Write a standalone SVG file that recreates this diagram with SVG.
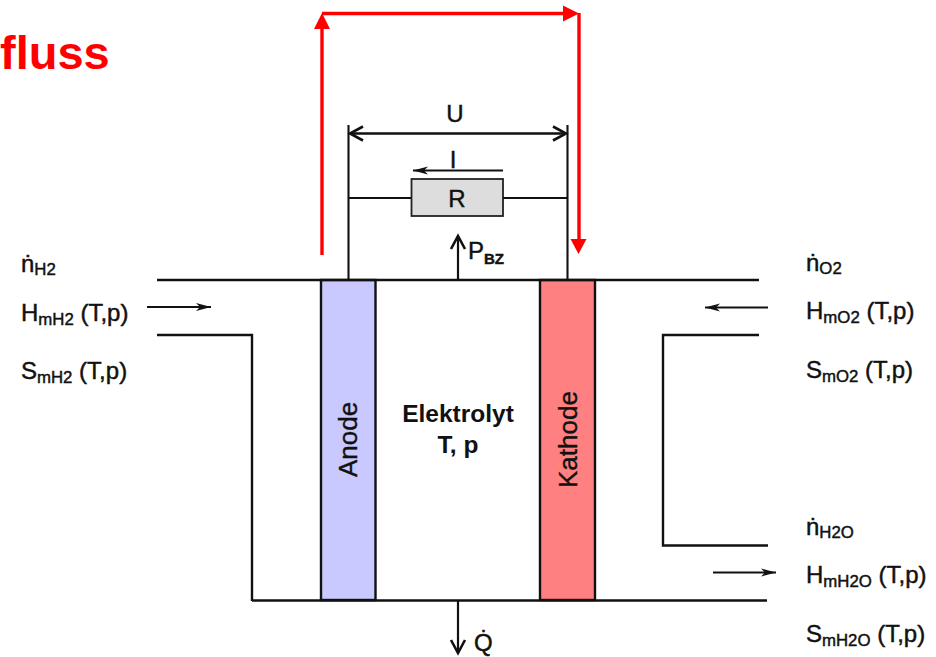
<svg xmlns="http://www.w3.org/2000/svg" width="936" height="657" viewBox="0 0 936 657">
<style>
text{font-family:"Liberation Sans",Arial,sans-serif;fill:#111}
.l{font-size:24px;stroke:#111;stroke-width:.45}
.e{font-size:26px;stroke:#111;stroke-width:.4}
.s{font-size:16.800px}
.m{text-anchor:middle}
.k{fill:none;stroke:#111;stroke-width:2.4}
.t{fill:none;stroke:#111;stroke-width:2.1}
.r{fill:none;stroke:#f00;stroke-width:3.4}
.h{fill:#f00}
.a{fill:none;stroke:#111;stroke-width:2.2}
</style>
<defs>
<marker id="o" markerUnits="userSpaceOnUse" markerWidth="18" markerHeight="18" refX="15" refY="9" orient="auto"><path d="M2 2L15 9L2 16" fill="none" stroke="#111" stroke-width="2.6"/></marker>
<marker id="b" markerUnits="userSpaceOnUse" markerWidth="18" markerHeight="12" refX="16" refY="6" orient="auto-start-reverse"><path d="M1 2L16 6L1 10L5 6Z" fill="#111"/></marker>
</defs>
<rect width="936" height="657" fill="#fff"/>
<text id="title" x="0" y="69" font-size="47" font-weight="700" style="fill:#f00">fluss</text>
<g id="anode"><rect x="321" y="280" width="54.500" height="320" fill="#c9c9ff" stroke="#111" stroke-width="2.400"/><text class="e" transform="translate(357,477) rotate(-90)">Anode</text></g>
<g id="kathode"><rect x="540" y="280" width="55" height="320" fill="#ff8080" stroke="#111" stroke-width="2.400"/><text class="e" transform="translate(577,488) rotate(-90)">Kathode</text></g>
<g id="elektrolyt"><text class="m" x="458" y="422" font-size="24.500" font-weight="700">Elektrolyt</text><text class="m" x="458" y="453" font-size="24.500" font-weight="700">T, p</text></g>
<g id="resistor"><rect x="411.500" y="179" width="91.500" height="37" fill="#ddd" stroke="#222" stroke-width="1.800"/><text class="l m" x="457" y="207">R</text></g>
<g id="connectors">
<path class="k" d="M157 280H759M157 335H252V601M252 600.500H767M759 335H663V545.500H768"/>
<path class="t" d="M348.500 125V280M567.500 125V280M348.500 198H411M503 198H567"/>
<path class="a" d="M350 133.500H566" marker-end="url(#o)"/>
<path class="a" d="M566 133.500H350" marker-end="url(#o)"/>
<path class="t" d="M503 170.500H413" marker-end="url(#b)"/>
<path class="a" d="M458 280V236" marker-end="url(#o)"/>
<path class="a" d="M458 601V653" marker-end="url(#o)"/>
<path class="t" d="M147 307H211" marker-end="url(#b)"/>
<path class="t" d="M768 307.500H705" marker-end="url(#b)"/>
<path class="t" d="M713 572.500H776" marker-end="url(#b)"/>
<path class="r" d="M322 255V25M322 13.500H566M579 13V242"/>
<path class="h" d="M322 13L330 29H314ZM579 13.500L563 5.500V21.500ZM578.500 254L570.500 239H586.500Z"/>
</g>
<g id="labels-h2">
<text class="l" x="21" y="272">ṅ<tspan class="s" dy="3">H2</tspan></text>
<text class="l" x="21" y="321">H<tspan class="s" dy="3.500">mH2</tspan><tspan dy="-3.500"> (T,p)</tspan></text>
<text class="l" x="21" y="379">S<tspan class="s" dy="3.500">mH2</tspan><tspan dy="-3.500"> (T,p)</tspan></text>
</g>
<g id="labels-o2">
<text class="l" x="806" y="271">ṅ<tspan class="s" dy="3">O2</tspan></text>
<text class="l" x="806" y="319">H<tspan class="s" dy="3.500">mO2</tspan><tspan dy="-3.500"> (T,p)</tspan></text>
<text class="l" x="806" y="378">S<tspan class="s" dy="3.500">mO2</tspan><tspan dy="-3.500"> (T,p)</tspan></text>
</g>
<g id="labels-h2o">
<text class="l" x="806" y="535">ṅ<tspan class="s" dy="3">H2O</tspan></text>
<text class="l" x="806" y="583">H<tspan class="s" dy="3.500">mH2O</tspan><tspan dy="-3.500"> (T,p)</tspan></text>
<text class="l" x="806" y="642">S<tspan class="s" dy="3.500">mH2O</tspan><tspan dy="-3.500"> (T,p)</tspan></text>
</g>
<g id="labels-circuit">
<text class="l m" x="455" y="122">U</text>
<text class="l m" x="453" y="168">I</text>
<text class="l" x="468" y="259">P<tspan font-size="15" font-weight="700" dy="5">BZ</tspan></text>
<text class="l" x="474" y="651">Q̇</text>
</g>
</svg>
